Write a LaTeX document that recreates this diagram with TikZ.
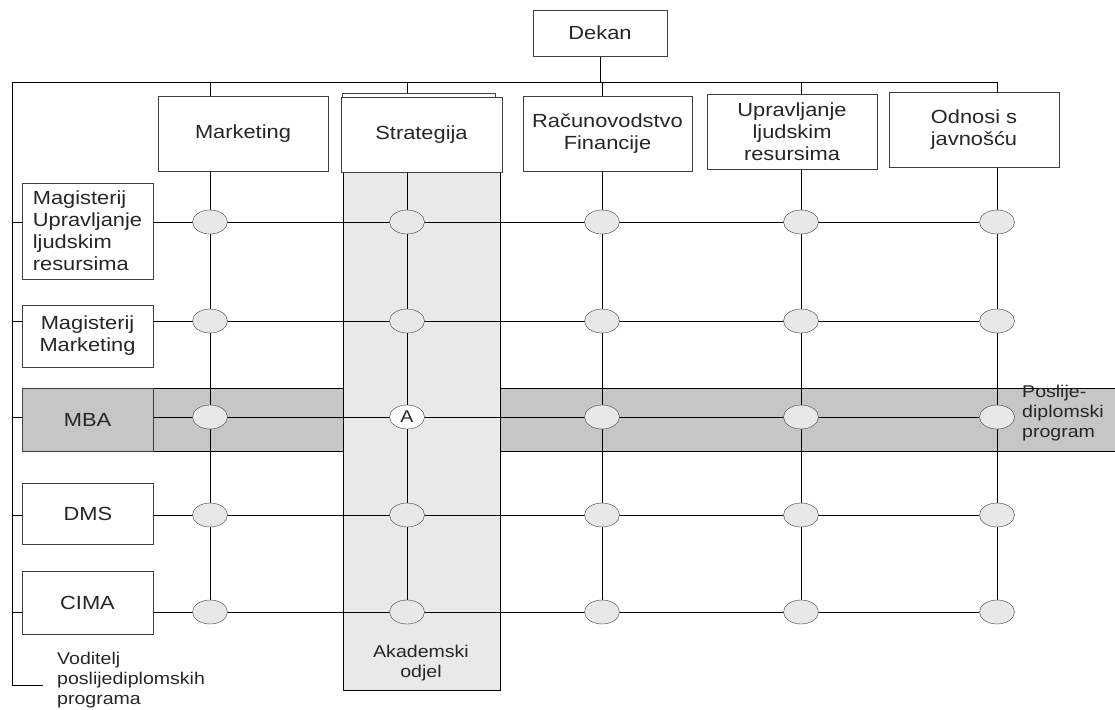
\documentclass[tikz,border=0pt]{standalone}
\usepackage{fontspec}
\setmainfont{Liberation Sans}[FakeStretch=1.15]
\usetikzlibrary{shapes.geometric}
\pgfdeclarelayer{bg}
\pgfdeclarelayer{edges}
\pgfsetlayers{bg,edges,main}

\begin{document}
\begin{tikzpicture}[x=1pt, y=-1pt,
    line width=1pt, draw=black!75,
    every node/.style={font=\fontsize{19}{22}\selectfont, text=black!85},
    hbox/.style={draw=black!75, fill=white, minimum width=170pt, minimum height=75pt, align=center, inner sep=2pt},
    rbox/.style={draw=black!75, fill=white, minimum width=131pt, minimum height=62pt, align=center, inner sep=2pt},
    dot/.style={ellipse, draw=black!75, fill=gray!18, minimum width=35pt, minimum height=24pt, inner sep=0pt},
    adot/.style={dot, fill=white, font=\fontsize{17}{19}\selectfont},
    note/.style={font=\fontsize{17}{20}\selectfont, align=left, inner sep=0pt}
]
    \useasboundingbox (0,0) rectangle (1115,709);

    % Postgraduate band and academic department column
    \begin{pgfonlayer}{bg}
        \filldraw[fill=gray!45] (22,388) rectangle (1125,451);
        \filldraw[fill=gray!17] (343,100) rectangle (500,690);
    \end{pgfonlayer}

    % Dean and functions
    \node[hbox, minimum width=134pt, minimum height=46pt] (dekan) at (600,33) {Dekan};
    \filldraw[fill=white] (342,93) rectangle (495,171);
    \node[hbox] (mkt) at (243,134) {Marketing};
    \node[hbox, minimum width=161pt] (strat) at (421.5,135) {Strategija};
    \node[hbox, minimum width=169pt] (racun) at (607.5,134) {Računovodstvo\\Financije};
    \node[hbox] (uljr) at (792,132) {Upravljanje\\ljudskim\\resursima};
    \node[hbox] (odnosi) at (974,130) {Odnosi s\\javnošću};

    % Programmes
    \node[rbox, minimum height=96pt, align=left] (mul) at (87.5,231) {Magisterij\\Upravljanje\\ljudskim\\resursima};
    \node[rbox] (mm) at (87.5,336) {Magisterij\\Marketing};
    \node[rbox, fill=gray!45, minimum height=63pt] (mba) at (87.5,419.5) {MBA};
    \node[rbox, minimum height=61pt] (dms) at (88,513.5) {DMS};
    \node[rbox, minimum height=63pt] (cima) at (87.5,602.5) {CIMA};

    % Matrix cells
    \foreach \x [count=\j] in {210,407,602,801,997} {
        \foreach \y [count=\i] in {222,321,417,515,612} {
            \ifnum\i\j=32
                \node[adot] (c\i\j) at (\x,\y) {A};
            \else
                \node[dot] (c\i\j) at (\x,\y) {};
            \fi
        }
    }

    % Labels
    \node[note, anchor=west] (vod) at (57,680) {Voditelj\\poslijediplomskih\\programa};
    \node[note, align=center] (akad) at (421,663) {Akademski\\odjel};
    \node[note, anchor=west] (posl) at (1022,413) {Poslije-\\diplomski\\program};

    % Lines
    \coordinate (busL) at (12,82);
    \coordinate (brk) at (43,685);
    \begin{pgfonlayer}{edges}
        \draw (busL) -- (c15 |- busL);
        \draw (dekan.south) -- (dekan.south |- busL);
        \draw (busL) |- (brk);
        \foreach \j in {1,...,5}
            \draw (c1\j |- busL) -- (c5\j);
        \foreach \b [count=\i] in {mul,mm,mba,dms,cima} {
            \draw (\b.east |- c\i1) -- (c\i5);
            \draw (busL |- c\i1) -- (\b.west |- c\i1);
        }
    \end{pgfonlayer}
\end{tikzpicture}
\end{document}
